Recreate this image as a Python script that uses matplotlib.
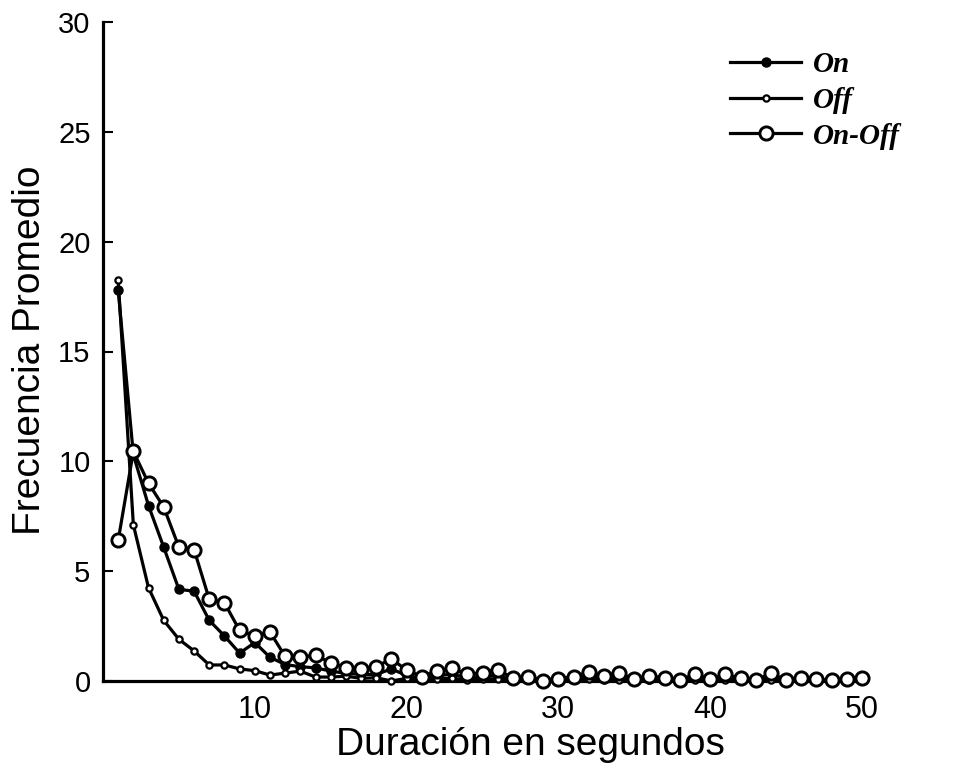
import numpy as np
import matplotlib.pyplot as plt

# duracion en segundos (1 a 50)
duracion = np.arange(1, 51)

frec_on = [17.8, 10.3, 7.98, 6.09, 4.17, 4.09, 2.76, 2.05, 1.27, 1.75,
           1.08, 0.75, 0.65, 0.6, 0.45, 0.35, 0.3, 0.3, 0.55, 0.25,
           0.12, 0.25, 0.3, 0.15, 0.2, 0.25, 0.05, 0.1, 0.02, 0.05,
           0.1, 0.2, 0.12, 0.18, 0.03, 0.1, 0.08, 0.02, 0.15, 0.05,
           0.15, 0.05, 0.02, 0.15, 0.02, 0.05, 0.03, 0.02, 0.05, 0.07]

frec_off = [18.25, 7.11, 4.24, 2.76, 1.9, 1.37, 0.73, 0.73, 0.55, 0.47,
            0.27, 0.36, 0.45, 0.18, 0.18, 0.22, 0.12, 0.15, 0.0, 0.12,
            0.05, 0.1, 0.12, 0.05, 0.08, 0.1, 0.02, 0.05, 0.0, 0.02,
            0.05, 0.08, 0.05, 0.06, 0.02, 0.04, 0.03, 0.01, 0.05, 0.02,
            0.05, 0.02, 0.01, 0.05, 0.01, 0.02, 0.02, 0.01, 0.02, 0.03]

frec_onoff = [6.4, 10.45, 9.0, 7.92, 6.09, 5.98, 3.72, 3.56, 2.3, 2.05,
              2.23, 1.12, 1.08, 1.18, 0.82, 0.6, 0.53, 0.66, 1.0, 0.5,
              0.2, 0.47, 0.58, 0.3, 0.38, 0.52, 0.12, 0.2, 0.02, 0.1,
              0.2, 0.41, 0.25, 0.38, 0.07, 0.22, 0.15, 0.03, 0.32, 0.08,
              0.3, 0.12, 0.03, 0.35, 0.05, 0.13, 0.07, 0.05, 0.1, 0.15]

W, H = 955, 773
fig = plt.figure(figsize=(W / 100, H / 100), dpi=100)
# ejes: x=0 en 103 px, x=50 en 862 px; y=0 en 681 px, y=30 en 22 px
ax = fig.add_axes([103 / W, 1 - 681 / H, (862 - 103) / W, (681 - 22) / H])

lw = 2.3
ax.plot(duracion, frec_on, '-o', color='black', lw=lw, ms=6.5,
        mfc='black', mec='black', label='On', clip_on=False, zorder=3)
ax.plot(duracion, frec_off, '-o', color='black', lw=lw, ms=4.5, mew=1.6,
        mfc='white', mec='black', label='Off', clip_on=False, zorder=4)
ax.plot(duracion, frec_onoff, '-o', color='black', lw=lw, ms=9.5, mew=2.1,
        mfc='white', mec='black', label='On-Off', clip_on=False, zorder=5)

ax.set_xlim(0, 50)
ax.set_ylim(0, 30)
ax.set_xticks([10, 20, 30, 40, 50])
ax.set_yticks([0, 5, 10, 15, 20, 25, 30])

for s in ['top', 'right']:
    ax.spines[s].set_visible(False)
for s in ['left', 'bottom']:
    ax.spines[s].set_linewidth(2.3)

ax.tick_params(axis='y', direction='in', length=7, width=1.5, pad=9,
               labelsize=21)
ax.tick_params(axis='x', length=0, pad=10, labelsize=22)
for t in ax.get_yticklabels() + ax.get_xticklabels():
    t.set_family(['Liberation Sans', 'DejaVu Sans'])

fuente_eje = {'family': ['Liberation Sans', 'DejaVu Sans'], 'size': 28}
ax.set_xlabel('Duración en segundos', fontdict=fuente_eje)
ax.set_ylabel('Frecuencia Promedio', fontdict=fuente_eje)
# posiciones de las etiquetas en pixeles de la figura
ax.xaxis.set_label_coords(530 / W, 1 - 745 / H, transform=fig.transFigure)
ax.xaxis.label.set_va('center')
ax.yaxis.set_label_coords(30 / W, 1 - 350 / H, transform=fig.transFigure)
ax.yaxis.label.set_va('center')

leg = ax.legend(loc='upper left', bbox_to_anchor=(730 / W, 1 - 51 / H),
                bbox_transform=fig.transFigure, frameon=False, numpoints=1,
                handlelength=2.45, handletextpad=0.4, labelspacing=0.3,
                borderpad=0, borderaxespad=0,
                prop={'family': 'Liberation Serif', 'weight': 'bold',
                      'style': 'italic', 'size': 21})

fig.savefig('out.png', dpi=100)
